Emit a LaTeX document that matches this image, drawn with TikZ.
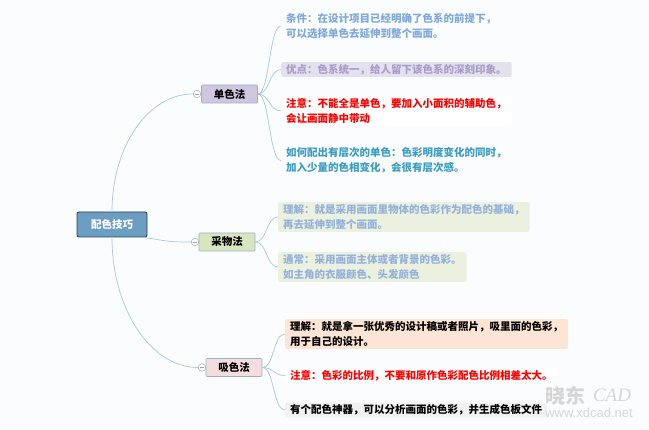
\documentclass[tikz,border=0pt]{standalone}
\usepackage{fontspec}
\setmainfont{Noto Sans CJK SC}
\newfontfamily\wmfont{Liberation Sans}
\newfontfamily\wmserif{Liberation Serif}
\definecolor{bgcol}{HTML}{FBFCFD}
\definecolor{rootfill}{HTML}{6C9EC1}
\definecolor{rootline}{HTML}{2E4556}
\definecolor{boxline}{HTML}{93B2CF}
\definecolor{linkcol}{HTML}{A8C7DC}
\definecolor{dansefill}{HTML}{D0C6E0}
\definecolor{caiwufill}{HTML}{D9E5BF}
\definecolor{xisefill}{HTML}{F3DDDD}
\definecolor{lightblue}{HTML}{7FA9DA}
\definecolor{purpfill}{HTML}{E5E0EE}
\definecolor{purptext}{HTML}{A99CC8}
\definecolor{tealtext}{HTML}{3B9DC2}
\definecolor{greenfill}{HTML}{EBF1DE}
\definecolor{greentext}{HTML}{93B1DB}
\definecolor{peachfill}{HTML}{FCE5D4}
\definecolor{grayfill}{HTML}{F1F1F1}
\definecolor{wmgray}{HTML}{D6D6D6}
\begin{document}
\begin{tikzpicture}[x=1pt,y=-1pt,
  every node/.style={font=\fontsize{10.5}{15.5}\selectfont\bfseries},
  root/.style={draw=rootline, fill=rootfill, line width=0.9pt, rounded corners=2,
    minimum width=70, minimum height=25, inner sep=0, text=white},
  branch/.style={draw=boxline, fill=#1, rounded corners=1, line width=0.6pt,
    minimum width=56, minimum height=18, inner sep=0},
  leaf/.style={anchor=west, align=left, rounded corners=2, inner xsep=5, inner ysep=2, fill=#1},
  leaf/.default=none,
  link/.style={draw=linkcol, line width=0.7pt},
  fold/.style={circle, draw=gray!70, fill=white, line width=0.5pt, minimum size=7.5, inner sep=0}]
\fill[bgcol] (0,0) rectangle (649,430);
\useasboundingbox (0,0) rectangle (649,430);

\node[root] (root) at (112,224.5) {配色技巧};

\node[branch=dansefill] (m1) at (229.5,94) {单色法};
\node[branch=caiwufill] (m2) at (227,242) {采物法};
\node[branch=xisefill] (m3) at (234,367.5) {吸色法};

\node[fold] (f1) at (197,94) {};
\node[fold] (f2) at (195,242) {};
\node[fold] (f3) at (202,367.5) {};
\foreach \f in {f1,f2,f3}
  \draw[gray!70, line width=0.5pt] ([xshift=-2]\f.center) -- ([xshift=2]\f.center);

\draw[link] (root.north) .. controls +(0,-65) and +(-45,0) .. (f1.west);
\draw[link] (root.-22) .. controls +(25,4) and +(-22,0) .. (f2.west);
\draw[link] (root.south) .. controls +(0,72) and +(-47,0) .. (f3.west);

\node[leaf, text=lightblue] (d1) at (281,26) {条件：在设计项目已经明确了色系的前提下，\\可以选择单色去延伸到整个画面。};
\node[leaf=purpfill, text=purptext] (d2) at (281,69.5) {优点：色系统一，给人留下该色系的深刻印象。};
\node[leaf=white, text=red] (d3) at (281,111) {注意：不能全是单色，要加入小面积的辅助色，\\会让画面静中带动};
\node[leaf, text=tealtext] (d4) at (281,160.5) {如何配出有层次的单色：色彩明度变化的同时，\\加入少量的色相变化，会很有层次感。};

\node[leaf=greenfill, text=greentext] (c1) at (278,217) {理解：就是采用画面里物体的色彩作为配色的基础，\\再去延伸到整个画面。};
\node[leaf=greenfill, text=greentext] (c2) at (278,267) {通常：采用画面主体或者背景的色彩。\\如主角的衣服颜色、头发颜色};

\node[leaf=peachfill, text=black] (x1) at (285,334) {理解：就是拿一张优秀的设计稿或者照片，吸里面的色彩，\\用于自己的设计。};
\node[leaf=white, text=red] (x2) at (285,375.5) {注意：色彩的比例，不要和原作色彩配色比例相差太大。};
\node[leaf=grayfill, text=black] (x3) at (285,410) {有个配色神器，可以分析画面的色彩，并生成色板文件};

\foreach \a in {d1,d2,d3,d4}
  \draw[link] (m1.east) .. controls +(12,0) and +(-12,0) .. (\a.west);
\foreach \a in {c1,c2}
  \draw[link] (m2.east) .. controls +(12,0) and +(-12,0) .. (\a.west);
\foreach \a in {x1,x2,x3}
  \draw[link] (m3.east) .. controls +(12,0) and +(-12,0) .. (\a.west);

\node[text=wmgray, font=\fontsize{20}{20}\selectfont\bfseries] (wm1) at (565,396) {晓东};
\node[text=wmgray, font=\fontsize{19}{19}\selectfont\wmserif\itshape] (wm2) at (612,395) {CAD};
\node[text=wmgray, font=\fontsize{13}{13}\selectfont\wmfont] (wm3) at (589,413) {www.xdcad.net};
\end{tikzpicture}
\end{document}
